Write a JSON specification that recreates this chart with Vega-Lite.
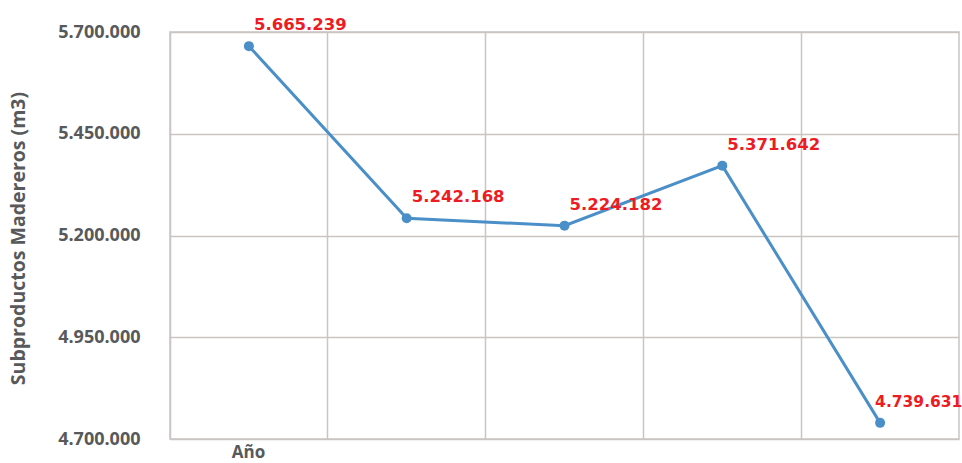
{
  "$schema": "https://vega.github.io/schema/vega-lite/v6.json",
  "width": 789,
  "height": 407,
  "autosize": {"type": "none"},
  "padding": {"left": 170, "top": 32, "right": 3, "bottom": 24},
  "background": "white",
  "config": {
    "locale": {"number": {"decimal": ",", "thousands": ".", "grouping": [3], "currency": ["", ""]}},
    "view": {"stroke": "#c9c5c2", "strokeWidth": 1.5},
    "font": "Open Sans"
  },
  "data": {
    "values": [
      {"anio": "2015", "valor": 5665239},
      {"anio": "2016", "valor": 5242168},
      {"anio": "2017", "valor": 5224182},
      {"anio": "2018", "valor": 5371642},
      {"anio": "2019", "valor": 4739631}
    ]
  },
  "encoding": {
    "x": {
      "field": "anio",
      "type": "ordinal",
      "scale": {"type": "band", "paddingInner": 0, "paddingOuter": 0},
      "axis": {
        "labels": false,
        "ticks": false,
        "domain": false,
        "grid": true,
        "bandPosition": 0,
        "gridColor": "#c9c5c2",
        "gridWidth": 1.5,
        "gridOpacity": 1,
        "title": "Año",
        "titleX": 78,
        "titleY": 5,
        "titleAlign": "center",
        "titleBaseline": "top",
        "titleFont": "Open Sans",
        "titleFontSize": 17,
        "titleFontWeight": "bold",
        "titleColor": "#58595b"
      }
    },
    "y": {
      "field": "valor",
      "type": "quantitative",
      "scale": {"domain": [4700000, 5700000], "nice": false, "zero": false},
      "axis": {
        "values": [4700000, 4950000, 5200000, 5450000, 5700000],
        "format": ",.0f",
        "ticks": false,
        "domain": false,
        "grid": true,
        "gridColor": "#c9c5c2",
        "gridWidth": 1.5,
        "gridOpacity": 1,
        "labelPadding": 30,
        "labelFont": "Open Sans",
        "labelFontSize": 18,
        "labelFontWeight": "bold",
        "labelColor": "#58595b",
        "title": "Subproductos Madereros (m3)",
        "titleX": -152,
        "titleY": 206,
        "titleAngle": -90,
        "titleAlign": "center",
        "titleBaseline": "middle",
        "titleFont": "Open Sans",
        "titleFontSize": 19.5,
        "titleFontWeight": "bold",
        "titleColor": "#58595b"
      }
    }
  },
  "layer": [
    {"mark": {"type": "line", "color": "#4a8fc8", "strokeWidth": 3}},
    {"mark": {"type": "point", "filled": true, "color": "#4a8fc8", "size": 100, "opacity": 1}},
    {
      "transform": [{"filter": "datum.anio != '2019'"}],
      "mark": {"type": "text", "align": "left", "baseline": "alphabetic", "dx": 5, "dy": -16, "color": "#ec1c24", "font": "DejaVu Sans", "fontSize": 16.5, "fontWeight": "bold"},
      "encoding": {"text": {"field": "valor", "type": "quantitative", "format": ",.0f"}}
    },
    {
      "transform": [{"filter": "datum.anio == '2019'"}],
      "mark": {"type": "text", "align": "left", "baseline": "alphabetic", "dx": -5, "dy": -16, "color": "#ec1c24", "font": "DejaVu Sans", "fontSize": 15.5, "fontWeight": "bold"},
      "encoding": {"text": {"field": "valor", "type": "quantitative", "format": ",.0f"}}
    }
  ]
}
